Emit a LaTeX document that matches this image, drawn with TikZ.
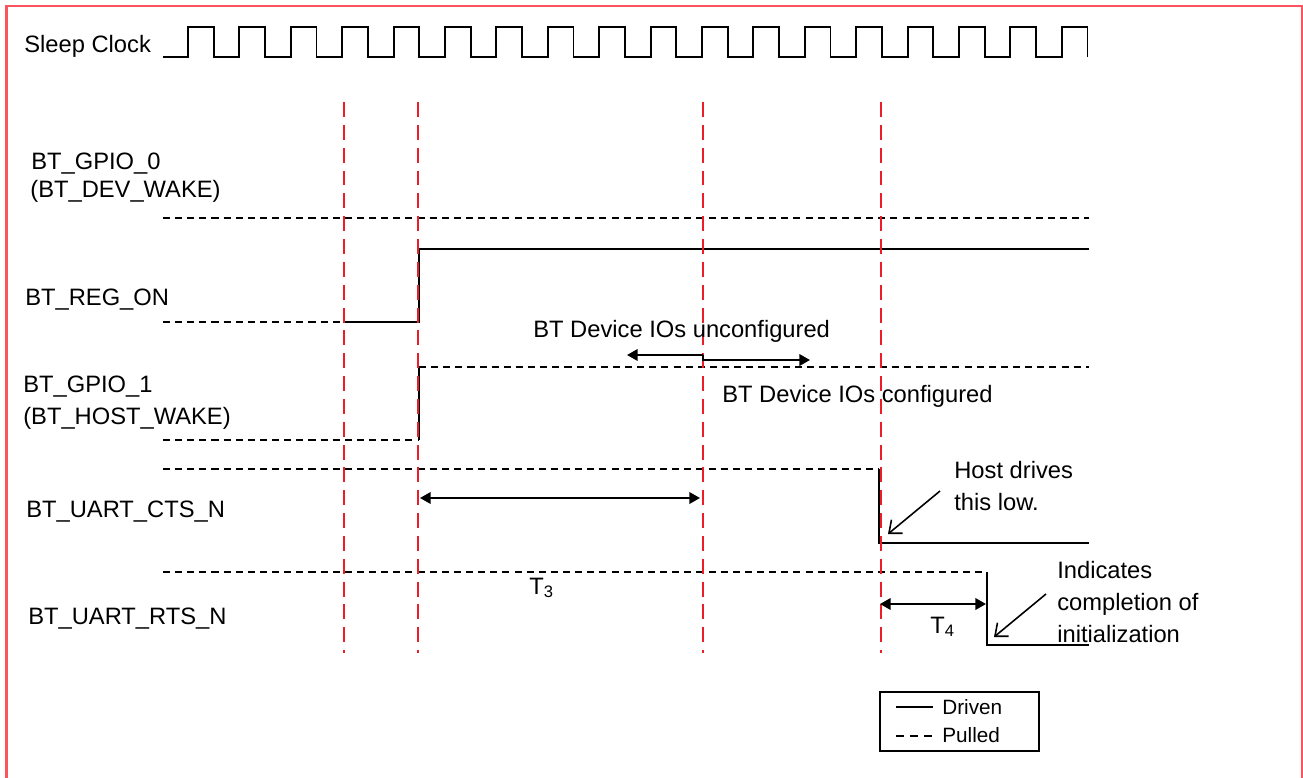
\documentclass[tikz,border=0pt]{standalone}
\usepackage{fontspec}
\setmainfont{Liberation Sans}
\usetikzlibrary{arrows.meta}

\definecolor{framered}{RGB}{250,85,95}
\definecolor{markred}{RGB}{235,30,40}

\tikzset{
  lbl/.style={anchor=base west, inner sep=0pt, font=\fontsize{13.5}{16}\selectfont},
  keylbl/.style={anchor=base west, inner sep=0pt, font=\fontsize{11.8}{14}\selectfont},
  sig/.style={line width=1.1pt},
  pulled/.style={sig, dash pattern=on 4pt off 2.9pt},
  marker/.style={markred, line width=1.1pt, dash pattern=on 8.5pt off 4.5pt},
  tarrow/.style={sig, -{Triangle[length=6pt,width=6.5pt]}},
  dimarrow/.style={sig, {Triangle[length=6pt,width=6.5pt]}-{Triangle[length=6pt,width=6.5pt]}},
  pointer/.style={line width=0.9pt, -{Straight Barb[length=6pt,width=10pt]}}
}

\begin{document}
\begin{tikzpicture}[x=0.02cm, y=-0.02cm]
  \useasboundingbox (0,0) rectangle (1303,778);
  \draw[framered, line width=1.2pt] (6.5,778) -- (6.5,6) -- (1302,6) -- (1302,778);

  % signal names
  \node[lbl] (sleep) at (24,52) {Sleep Clock};
  \node[lbl] (gpio0) at (31,169) {BT\_GPIO\_0};
  \node[lbl] (devwake) at (30,197) {(BT\_DEV\_WAKE)};
  \node[lbl] (regon) at (25,305) {BT\_REG\_ON};
  \node[lbl] (gpio1) at (23,392) {BT\_GPIO\_1};
  \node[lbl] (hostwake) at (23,424) {(BT\_HOST\_WAKE)};
  \node[lbl] (cts) at (26,517) {BT\_UART\_CTS\_N};
  \node[lbl] (rts) at (28,624) {BT\_UART\_RTS\_N};

  % sleep clock
  \draw[sig] (163,57) foreach \i in {0,...,17} {
    -- ({188+51.4*\i},57) -- ++(0,-30) -- ++(25.7,0) -- ++(0,30)};

  % waveforms
  \draw[pulled] (163,218) -- (1089,218);
  \draw[pulled] (163,322) -- (344,322);
  \draw[sig] (344,322) -- (419,322) -- (419,249) -- (1089,249);
  \draw[pulled] (163,440) -- (419,440);
  \draw[sig] (419,440) -- (419,367);
  \draw[pulled] (419,367) -- (1089,367);
  \draw[pulled] (163,469) -- (879,469);
  \draw[sig] (879,469) -- (879,543) -- (1089,543);
  \draw[pulled] (163,572) -- (987,572);
  \draw[sig] (987,572) -- (987,645) -- (1089,645);

  % time markers
  \foreach \x in {344,418,703,881}
    \draw[marker] (\x,102) -- (\x,653);

  % IO state
  \node[lbl] (uncfg) at (533,337) {BT Device IOs unconfigured};
  \node[lbl] (cfg) at (722,402) {BT Device IOs configured};
  \coordinate (split) at (703,355);
  \coordinate (uncfgend) at (627,355);
  \coordinate (cfgend) at (810,360);
  \draw[tarrow] (split) -- (uncfgend);
  \draw[tarrow] (split) -- ++(0,5) -- (cfgend);

  % timings
  \coordinate (t3a) at (420,498);
  \coordinate (t3b) at (700,498);
  \draw[dimarrow] (t3a) -- (t3b);
  \node[lbl] (t3) at (529,594) {T\textsubscript{3}};
  \coordinate (t4a) at (880,604);
  \coordinate (t4b) at (986,604);
  \draw[dimarrow] (t4a) -- (t4b);
  \node[lbl] (t4) at (930,633) {T\textsubscript{4}};

  % notes
  \node[lbl] (host1) at (954,478) {Host drives};
  \node[lbl] (host2) at (954,510) {this low.};
  \coordinate (hostfrom) at (940,491);
  \coordinate (hostto) at (888,534);
  \draw[pointer] (hostfrom) -- (hostto);
  \node[lbl] (ind1) at (1057,578) {Indicates};
  \node[lbl] (ind2) at (1057,610) {completion of};
  \node[lbl] (ind3) at (1057,642) {initialization};
  \coordinate (indfrom) at (1046,594);
  \coordinate (indto) at (994,637);
  \draw[pointer] (indfrom) -- (indto);

  % legend
  \draw[line width=1pt] (880,692) rectangle (1039,751);
  \draw[sig, line width=0.9pt] (896,707) -- (933,707);
  \draw[sig, line width=0.9pt, dash pattern=on 4.5pt off 3.4pt] (896,736) -- (933,736);
  \node[keylbl] (driven) at (942,714) {Driven};
  \node[keylbl] (pulledkey) at (942,742) {Pulled};
\end{tikzpicture}
\end{document}
